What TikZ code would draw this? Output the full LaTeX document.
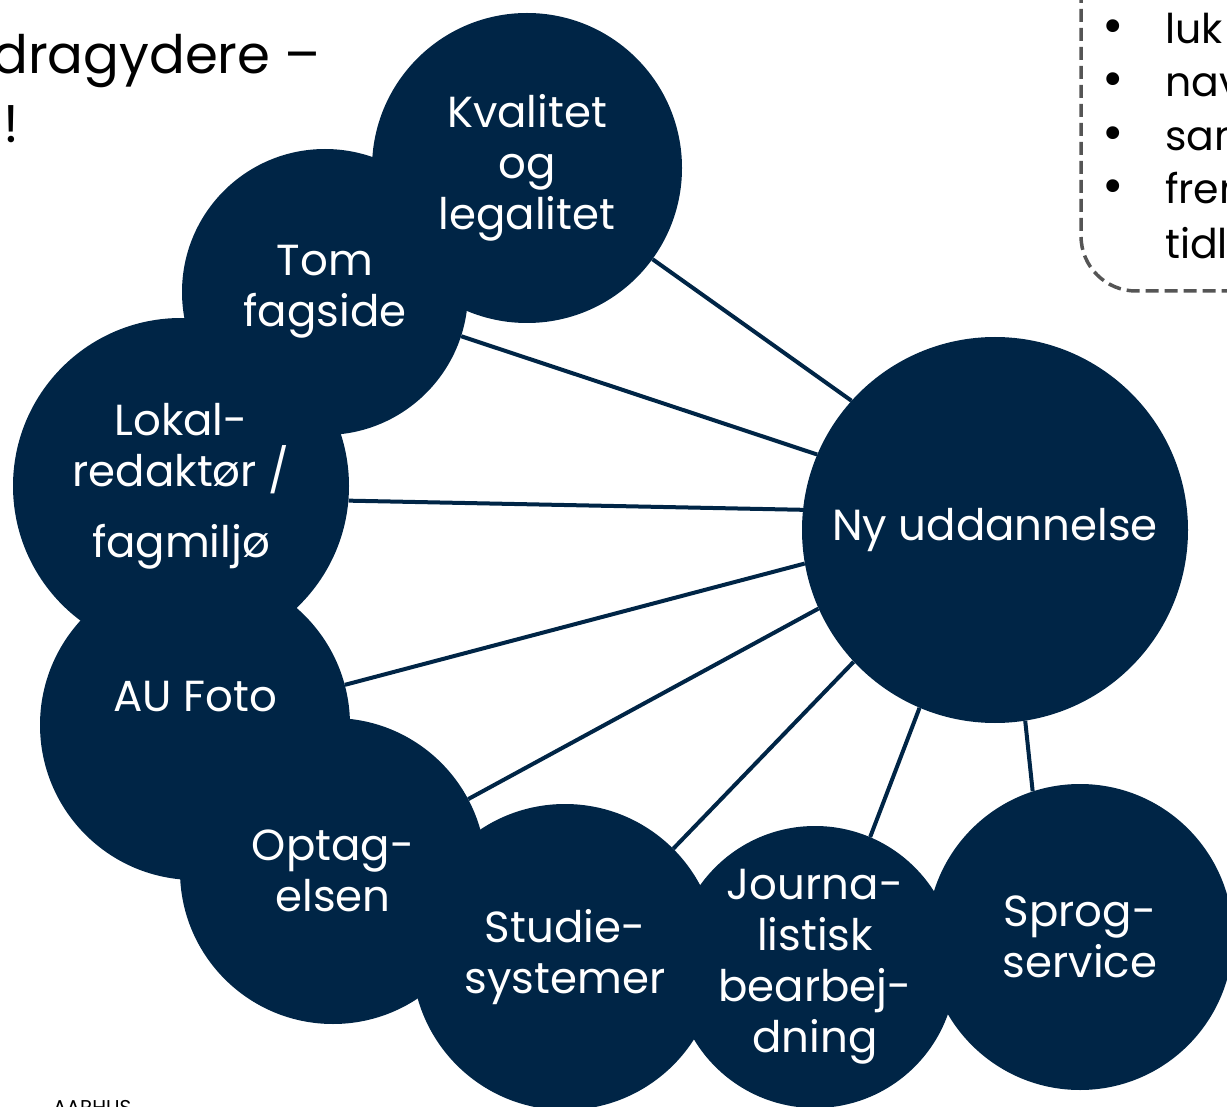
\documentclass[tikz,border=0pt]{standalone}
\usepackage{fontspec}
\setmainfont{Poppins}
\definecolor{aublue}{HTML}{002546}
\definecolor{dashgray}{HTML}{555555}
\tikzset{
  bubble/.style={circle, fill=aublue, text=white, inner sep=0pt, align=center,
    font=\fontsize{43.5}{51}\selectfont},
  link/.style={draw=aublue, line width=4pt},
  bubtext/.style={text=white, align=center, inner sep=0pt, font=\fontsize{43.5}{51}\selectfont},
  headtext/.style={text=black, inner sep=0pt, anchor=base west, font=\fontsize{53}{60}\selectfont},
  bullettext/.style={text=black, inner sep=0pt, anchor=base west, font=\fontsize{41}{50}\selectfont},
  bulletdot/.style={text=black, inner sep=0pt, anchor=base west, font=\fontsize{52}{50}\selectfont},
}
\begin{document}
\begin{tikzpicture}[x=1pt,y=-1pt]
\useasboundingbox (0,0) rectangle (1227,1107);

% circles
\node[bubble, minimum size=286pt] (tom) at (325,292) {Tom\\fagside};
\node[bubble, minimum size=310pt] (kval) at (527,168) {Kvalitet\\og\\legalitet};
\node[bubble, minimum size=336pt] (lokal) at (181,486) {Lokal-\\redaktør /\\[20pt]fagmiljø};
\node[bubble, minimum size=310pt] (foto) at (195,725) {};
\node[bubtext] (fototxt) at (195,697) {AU Foto};
\node[bubble, minimum size=306pt] (optag) at (333,871) {Optag-\\elsen};
\node[bubble, minimum size=306pt] (studie) at (565,957) {Studie-\\systemer};
\node[bubble, minimum size=282pt] (journa) at (815,967) {Journa-\\listisk\\bearbej-\\dning};
\node[bubble, minimum size=306pt] (sprog) at (1080,937) {Sprog-\\service};
\node[bubble, minimum size=386pt] (hub) at (995,530) {Ny uddannelse};

% connectors
\draw[link] (hub.138.8) -- (kval.-36.4);
\draw[link] (hub.157) -- (tom.-18.4);
\draw[link] (hub.174) -- (lokal.-5.8);
\draw[link] (hub.-170.1) -- (foto.15.1);
\draw[link] (hub.-156.5) -- (optag.28);
\draw[link] (hub.-137.1) -- (studie.45.3);
\draw[link] (hub.-113.7) -- (journa.67.4);
\draw[link] (hub.-81.9) -- (sprog.108.8);

% top-left heading (cut by page edge)
\node[headtext] (head1) at (-8,74) {dragydere –};
\node[headtext] (head2) at (3,143) {!};

% top-right dashed box (cut by page edge)
\coordinate (boxtop) at (1081,-10);
\coordinate (boxright) at (1240,291);
\draw[dashgray, line width=3.5pt, dash pattern=on 13pt off 6pt, rounded corners=55pt] (boxtop) |- (boxright);
\foreach \t/\y [count=\i] in {luk/44, nav/97, sam/151, frem/204} {
  \node[bulletdot] (bul\i) at (1102,\y) {•};
  \node[bullettext] (item\i) at (1165,\y) {\t};
}
\node[bullettext] (item5) at (1165,259) {tidl};

% footer (cut)
\node[anchor=north west, inner sep=0pt, font=\fontsize{20}{24}\selectfont] (footer) at (53,1100) {AARHUS};
\end{tikzpicture}
\end{document}
